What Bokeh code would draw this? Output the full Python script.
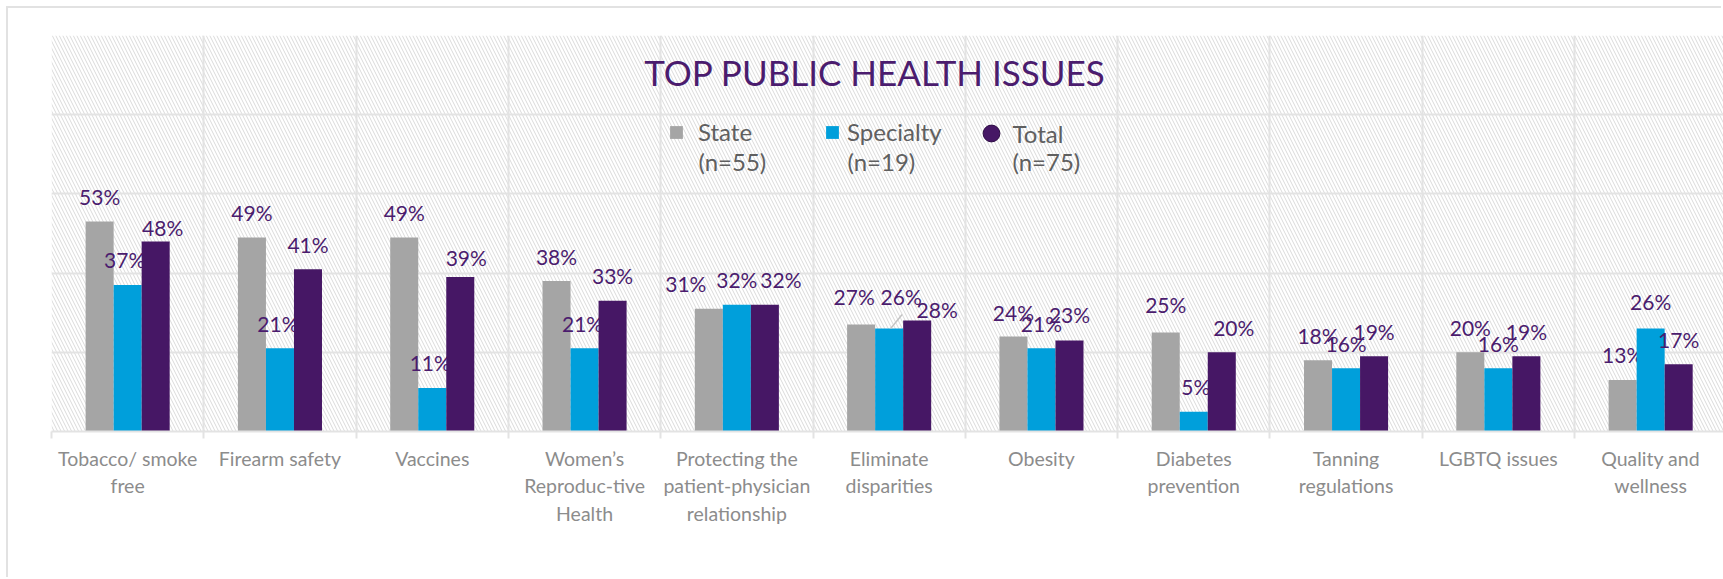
import numpy as np
from bokeh.plotting import figure, ColumnDataSource
from bokeh.models import (Range1d, FixedTicker, BoxAnnotation, Label, Legend, LegendItem)
from bokeh.transform import dodge
from bokeh.core.properties import value
from bokeh.embed import file_html
from bokeh.resources import INLINE

# ---------------- data ----------------
categories = ["Tobacco/ smoke\nfree", "Firearm safety", "Vaccines",
              "Women\u2019s\nReproduc-tive\nHealth",
              "Protecting the\npatient-physician\nrelationship",
              "Eliminate\ndisparities", "Obesity", "Diabetes\nprevention",
              "Tanning\nregulations", "LGBTQ issues", "Quality and\nwellness"]
state = [53, 49, 49, 38, 31, 27, 24, 25, 18, 20, 13]
specialty = [37, 21, 11, 21, 32, 26, 21, 5, 16, 16, 26]
total = [48, 41, 39, 33, 32, 28, 23, 20, 19, 19, 17]
series_names = ["State", "Specialty", "Total"]
series_n = ["(n=55)", "(n=19)", "(n=75)"]
title_text = "TOP PUBLIC HEALTH ISSUES"
y_ticks = [0.0, 0.2, 0.4, 0.6, 0.8, 1.0]

# ---------------- layout / style ----------------
FONT = "Lato"
C_STATE, C_SPEC, C_TOTAL = "#a5a5a5", "#009fdb", "#461765"
C_LABEL = "#4b1c6e"
C_GRID = "#e3e3e3"
W, H = 1715, 571
ML, MT = 43, 27
FRAME_H = 396
MB = H - MT - FRAME_H
cat_px = 152.3
frame_w = W - ML
bar_w = 0.184


def px_to_x(px):   # page px (frame-left at 51) -> data x
    return (px - 51) / cat_px - 0.5


def px_to_y(py):   # page px (baseline at 431) -> data y
    return (431 - py) / FRAME_H


# manual nudges of the data labels (px), like the hand-moved labels of the original
dx = {"State": [0, 0, 0, 0, -23, -7, 0, 0, 0, 0, 0],
      "Specialty": [-3, -2, -2, -2, 0, 12, 0, 2, 0, 0, 0],
      "Total": [7, 0, 6, 0, 16, 20, 0, 12, 0, 0, 0]}
dy = {"State": [0, 0, 0, 0, 0, -3, 1, -3, 0, 0, -1],
      "Specialty": [0, 0, 0, 0, 0, -7, 0, 0, 0, 0, -2],
      "Total": [11, 0, 5, 0, 0, 14, -1, 0, 0, 0, 0]}

idx = list(range(len(categories)))
p = figure(width=W, height=H, output_backend="svg", toolbar_location=None,
           x_range=Range1d(-0.5, -0.5 + frame_w / cat_px), y_range=Range1d(0, 1),
           min_border_left=ML, min_border_right=0, min_border_top=MT, min_border_bottom=MB,
           background_fill_color="white", border_fill_color="white")
p.outline_line_color = None
p.margin = (8, 0, 0, 8)
p.styles = {"box-shadow": "-2px -2px 0 0 #e2e2e2"}

# hatched plot background
p.add_layout(BoxAnnotation(fill_alpha=0, line_color=None, hatch_pattern="\\",
                           hatch_color="#dadada", hatch_scale=7, hatch_weight=1,
                           hatch_alpha=1.0, level="image"))

# grids
p.xgrid.ticker = FixedTicker(ticks=[i - 0.5 for i in range(len(categories) + 1)])
p.xgrid.grid_line_color = C_GRID
p.xgrid.grid_line_width = 2
p.ygrid.ticker = FixedTicker(ticks=y_ticks)
p.ygrid.grid_line_color = C_GRID
p.ygrid.grid_line_width = 2
p.yaxis.visible = False

# x axis
xa = p.xaxis[0]
xa.ticker = FixedTicker(ticks=idx, minor_ticks=[i - 0.5 for i in range(len(categories) + 1)])
xa.major_label_overrides = {i: c for i, c in zip(idx, categories)}
xa.major_tick_line_color = None
xa.minor_tick_in = 0
xa.minor_tick_out = 7
xa.minor_tick_line_color = C_GRID
xa.minor_tick_line_width = 2
xa.axis_line_color = C_GRID
xa.axis_line_width = 2
xa.major_label_text_font = FONT
xa.major_label_text_font_size = "19.5px"
xa.major_label_text_color = "#8c8c8c"
xa.major_label_text_line_height = 1.2
xa.major_label_standoff = 8

src = ColumnDataSource(dict(x=idx,
                            State=[v / 100 for v in state],
                            Specialty=[v / 100 for v in specialty],
                            Total=[v / 100 for v in total]))
offsets = [-bar_w, 0, bar_w]
colors = [C_STATE, C_SPEC, C_TOTAL]
bar_renderers = []
for name, off, col in zip(series_names, offsets, colors):
    r = p.vbar(x=dodge("x", off, range=p.x_range), top=name, width=bar_w, source=src,
               fill_color=col, line_color=None)
    bar_renderers.append(r)
    vals = {"State": state, "Specialty": specialty, "Total": total}[name]
    lsrc = ColumnDataSource(dict(x=[i + off for i in idx], y=[v / 100 for v in vals],
                                 t=[f"{v}%" for v in vals],
                                 xo=dx[name], yo=[-25 + d for d in dy[name]]))
    p.text(x="x", y="y", text="t", source=lsrc, x_offset="xo", y_offset="yo",
           text_align="center", text_baseline="middle", text_color=C_LABEL,
           text_font=value(FONT), text_font_size="21px")

# leader line of the moved "Specialty" label of "Eliminate disparities"
k = 5
p.segment(x0=[k + 1.5 / cat_px], y0=[specialty[k] / 100],
          x1=[k + 13 / cat_px], y1=[specialty[k] / 100 + 14 / FRAME_H],
          line_color="#c4c4c4", line_width=1.5)

# title
p.add_layout(Label(x=px_to_x(874.5), y=px_to_y(71.5), text=title_text,
                   text_align="center", text_baseline="middle", text_color=C_LABEL,
                   text_font=FONT, text_font_size="35px"))

# marker renderer standing for "Total" in the legend (same data, hidden)
total_marker = p.scatter(x=dodge("x", bar_w, range=p.x_range), y="Total", source=src,
                         marker="circle", size=17, fill_color=C_TOTAL,
                         line_color="#2e0d45", visible=False)

# legend: three single-item legends + the "(n=..)" second lines
leg_rend = [bar_renderers[0], bar_renderers[1], total_marker]
leg_loc = [(617, 285), (773, 285), (918.5, 277)]
leg_glyph = [16, 16, 42]
leg_standoff = [14, 7, 1]
n_x = [698, 847, 1012]
for name, n, r, loc, gw, so, nx in zip(series_names, series_n, leg_rend, leg_loc,
                                        leg_glyph, leg_standoff, n_x):
    lg = Legend(items=[LegendItem(label=name, renderers=[r])],
                location=loc, orientation="vertical",
                background_fill_alpha=0, border_line_color=None, padding=0, margin=0,
                glyph_width=gw, glyph_height=gw, label_standoff=so,
                inactive_fill_alpha=0, click_policy="none",
                label_text_font=FONT, label_text_font_size="24px",
                label_text_color="#5f5f5f")
    p.add_layout(lg)
    p.add_layout(Label(x=px_to_x(nx), y=px_to_y(161), text=n, text_align="left",
                       text_baseline="middle", text_color="#5f5f5f",
                       text_font=FONT, text_font_size="24px"))

open("out.html", "w").write(file_html(p, INLINE))
